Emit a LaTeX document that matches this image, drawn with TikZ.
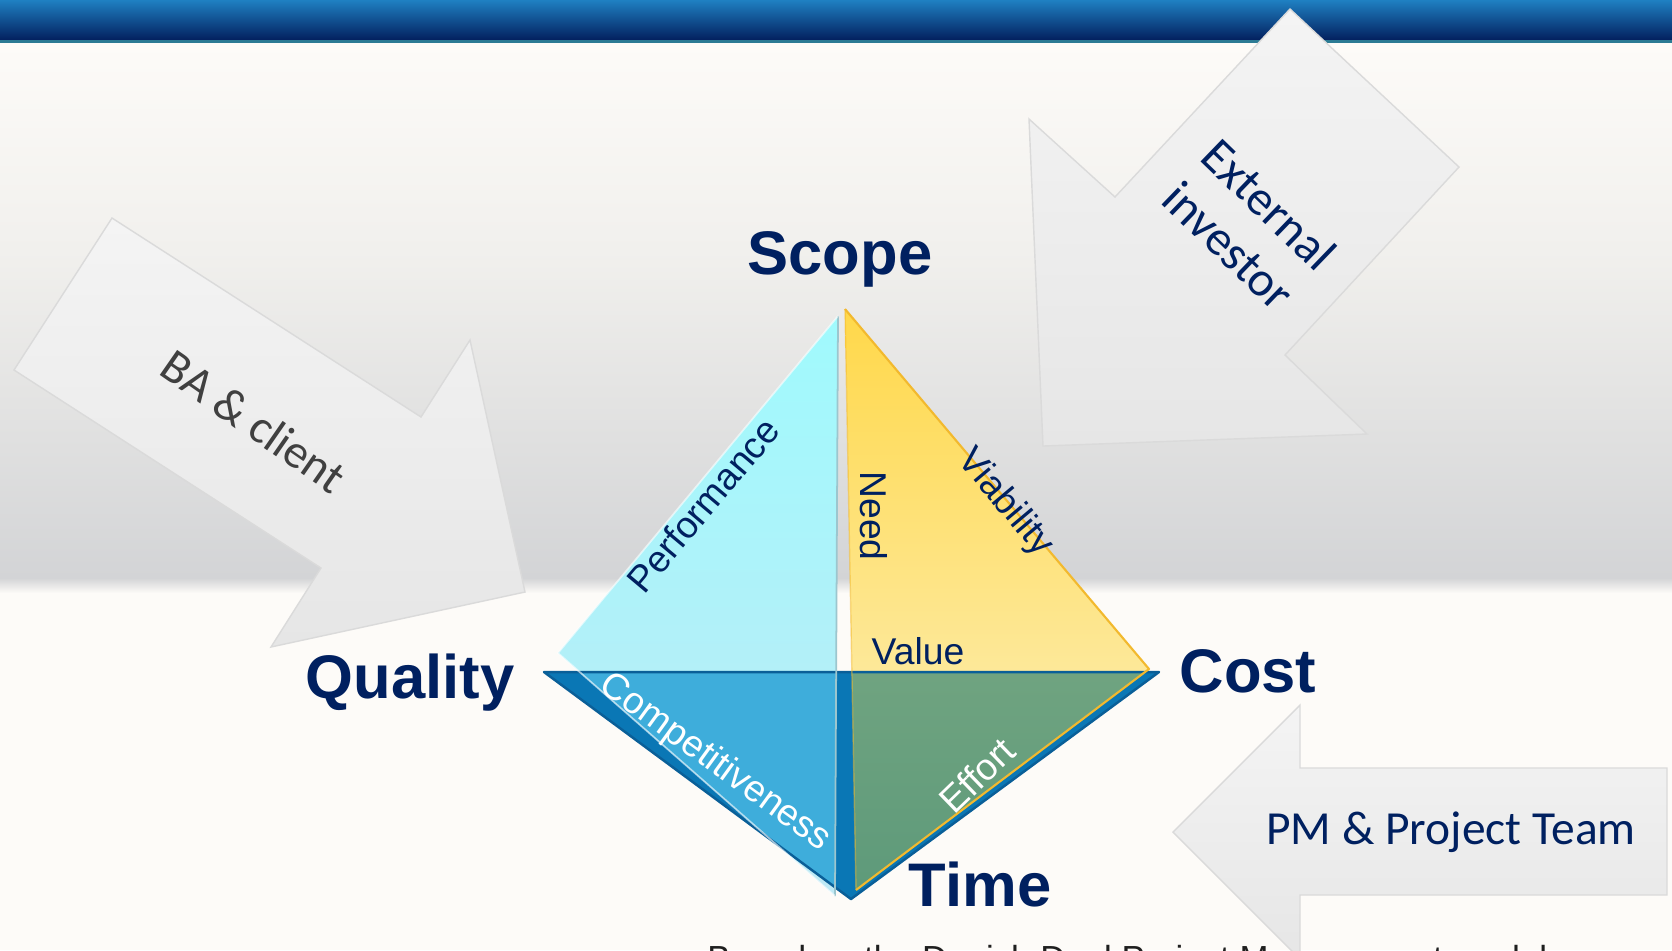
\documentclass[tikz,border=0pt]{standalone}
\usepackage{fontspec}
\setmainfont{Liberation Sans}
\newfontfamily\arrowfont{Carlito}
\usetikzlibrary{positioning}
\definecolor{navy}{HTML}{002060}
\definecolor{bartop}{HTML}{1F80C2}
\definecolor{barbot}{HTML}{03205E}
\definecolor{barline}{HTML}{2C7B94}
\definecolor{paper}{HTML}{FDFBF8}
\definecolor{fogmid}{HTML}{F1F0ED}
\definecolor{fog}{HTML}{D3D4D6}
\definecolor{arrowtop}{HTML}{F4F4F4}
\definecolor{arrowbot}{HTML}{E6E6E6}
\definecolor{arrowedge}{HTML}{DADADA}
\definecolor{darkgray}{HTML}{404040}
\definecolor{baseblue}{HTML}{0A77B5}
\definecolor{baseedge}{HTML}{0A5F98}
\definecolor{cyantop}{HTML}{A0FAFD}
\definecolor{cyanbot}{HTML}{BFE9F5}
\definecolor{cyandeep}{HTML}{3EADDB}
\definecolor{cyanedge}{HTML}{9CC6CE}
\definecolor{yellowtop}{HTML}{FFD84A}
\definecolor{yellowbot}{HTML}{FCF2C8}
\definecolor{yellowedge}{HTML}{F2B92E}
\definecolor{greentop}{HTML}{8CB38A}
\definecolor{greenbot}{HTML}{5E9A7A}
\tikzset{
mylabel/.style={
  font=\fontsize{17.5}{20}\selectfont\bfseries,
  text=navy,
  inner sep=0pt
  },
facelabel/.style={
  font=\fontsize{10.6}{12}\selectfont,
  text=#1,
  inner sep=0pt
  },
facelabel/.default=navy,
myarrow/.style={
  draw=arrowedge,
  line width=0.4pt,
  top color=arrowtop,
  bottom color=arrowbot
  },
arrowtext/.style={
  font=\arrowfont\fontsize{13.5}{16.5}\selectfont,
  text=#1,
  inner sep=0pt,
  align=center
  }
}

\begin{document}
\begin{tikzpicture}[x=0.01cm,y=-0.01cm]
\path[use as bounding box] (0,0) rectangle (1672,950);
\clip (0,0) rectangle (1672,950);

% background and title bar
\fill[paper] (0,0) rectangle (1672,950);
\shade[top color=paper, bottom color=fogmid] (0,43) rectangle (1672,250);
\shade[top color=fogmid, bottom color=fog] (0,250) rectangle (1672,578);
\shade[top color=fog, bottom color=paper] (0,578) rectangle (1672,593);
\shade[top color=bartop, bottom color=barbot] (0,0) rectangle (1672,40);
\fill[barline] (0,40) rectangle (1672,43);

% stakeholder arrows
\draw[myarrow] (112,218) -- (421,417) -- (470,340) -- (525,592)
  -- (271,647) -- (321,568) -- (14,370) -- cycle;
\draw[myarrow] (1290,9) -- (1459,167) -- (1285,355) -- (1367,434)
  -- (1043,446) -- (1029,119) -- (1115,197) -- cycle;
\draw[myarrow] (1173,832) -- (1300,705) -- (1300,768) -- (1667,768)
  -- (1667,895) -- (1300,895) -- (1300,959) -- cycle;

\node[arrowtext=darkgray, rotate=-34.8] (baclient) at (254,421) {BA \& client};
\node[arrowtext=navy, rotate=-44, font=\arrowfont\fontsize{14}{16.5}\selectfont]
  (investor) at (1249,225) {External\\investor};
\node[arrowtext=navy] (pmteam) at (1451,832) {PM \& Project Team};

% tetrahedron
\coordinate (bL) at (544,672);
\coordinate (bR) at (1159,672);
\coordinate (bB) at (851,899);
\coordinate (cT) at (838,316);
\coordinate (cL) at (558,653);
\coordinate (cB) at (835,896);
\coordinate (yT) at (845,309);
\coordinate (yR) at (1149,669);
\coordinate (yB) at (856,890);

\fill[baseblue] (bL) -- (bR) -- (bB) -- cycle;
\shade[top color=cyantop, bottom color=cyanbot] (cT) -- (cL) -- (cB) -- cycle;
\begin{scope}
  \clip (0,0) rectangle (1672,672);
  \shade[top color=yellowtop, bottom color=yellowbot] (yT) -- (yR) -- (yB) -- cycle;
\end{scope}
\begin{scope}
  \clip (bL) -- (bR) -- (bB) -- cycle;
  \fill[cyandeep] (cT) -- (cL) -- (cB) -- cycle;
  \shade[top color=greentop, bottom color=greenbot] (yT) -- (yR) -- (yB) -- cycle;
\end{scope}
\draw[baseedge, line width=0.7pt, line join=round] (bL) -- (bR) -- (bB) -- cycle;
\draw[cyanedge, line width=0.5pt] (cT) -- (cB);
\draw[white, opacity=0.6, line width=0.5pt] (cT) -- (cL) -- (cB);
\draw[yellowedge, line width=0.6pt, line join=round] (yT) -- (yR) -- (yB);
\draw[yellowedge, opacity=0.5, line width=0.4pt] (yT) -- (yB);

% corner labels
\node[mylabel, anchor=base] (scope) at (840,274) {Scope};
\node[mylabel, anchor=base] (quality) at (410,698) {Quality};
\node[mylabel, anchor=base] (cost) at (1248,692) {Cost};
\node[mylabel, anchor=base] (time) at (980,906) {Time};

% face and edge labels
\node[facelabel, rotate=50] (performance) at (703,505) {Performance};
\node[facelabel, rotate=-90] (need) at (874,516) {Need};
\node[facelabel, rotate=-50] (viability) at (1005,503) {Viability};
\node[facelabel] (value) at (918,651) {Value};
\node[facelabel=white, rotate=-36] (competitiveness) at (715,763) {Competitiveness};
\node[facelabel=white, rotate=44] (effort) at (977,775) {Effort};

\node[anchor=base west, font=\fontsize{9.9}{12}\selectfont, text=black!88]
  (source) at (695,970) {Based on the Danish Dual Project Management model};
\end{tikzpicture}
\end{document}
